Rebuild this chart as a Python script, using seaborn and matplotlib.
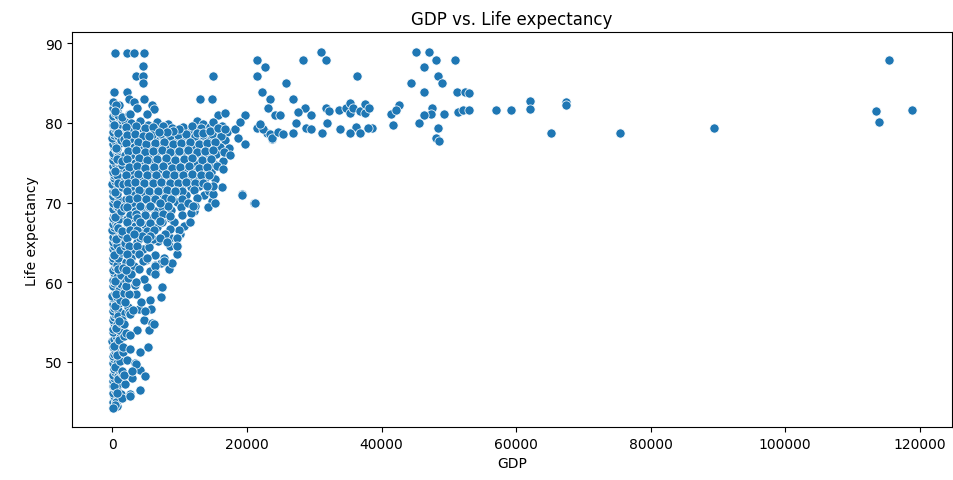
import matplotlib
matplotlib.use("Agg")
import matplotlib.pyplot as plt
import seaborn as sns
import pandas as pd

# ---- data (GDP, life expectancy) ----
col_near_zero = [
    (120,44.3),(300,44.6),(60,45.0),(420,45.3),(200,45.7),(30,46.1),(350,46.4),(150,46.9),(450,47.2),(80,47.6),
    (260,48.0),(20,48.4),(390,48.7),(170,49.1),(480,49.5),(90,49.9),(310,50.3),(40,50.7),(220,51.0),(440,51.4),
    (110,51.8),(340,52.2),(10,52.6),(250,52.9),(470,53.3),(140,53.7),(60,54.1),(380,54.5),(200,54.9),(20,55.3),
    (300,55.6),(460,56.0),(100,56.4),(230,56.8),(50,57.2),(400,57.6),(160,58.0),(10,58.3),(330,58.7),(480,59.1),
    (90,59.5),(260,59.9),(30,60.3),(410,60.7),(180,61.1),(70,61.5),(350,61.9),(500,62.2),(130,62.6),(20,63.0),
    (280,63.4),(440,63.8),(90,64.2),(210,64.6),(40,65.0),(370,65.3),(150,65.7),(490,66.1),(10,66.5),(270,66.9),
    (110,67.3),(420,67.7),(60,68.1),(190,68.4),(330,68.8),(20,69.2),(470,69.6),(140,70.0),(250,70.4),(50,70.8),
    (380,71.2),(100,71.5),(220,71.9),(10,72.3),(450,72.7),(170,73.1),(310,73.5),(70,73.9),(240,74.3),(30,74.6),
    (400,75.0),(130,75.4),(280,75.8),(20,76.2),(470,76.6),(190,77.0),(80,77.4),(350,77.7),(10,78.1),(230,78.5),
    (120,78.9),(420,79.3),(40,79.7),(300,80.1),(160,80.5),(20,80.9),(380,81.3),(90,81.9),(200,83.9),(60,82.6),
]
col_one_k = [
    (700,44.5),(900,45.5),(650,46.5),(1100,47.4),(800,48.2),(1000,49.0),(620,49.8),(1250,50.6),(850,51.5),(700,52.3),
    (1150,53.1),(950,54.0),(640,54.8),(1200,55.7),(780,56.5),(1050,57.4),(680,58.2),(920,59.0),(1300,59.8),(740,60.6),
    (1080,61.4),(610,62.2),(870,63.0),(1230,63.8),(720,64.7),(990,65.5),(1280,66.3),(650,67.1),(930,67.9),(1170,68.7),
    (760,69.5),(1040,70.3),(620,71.1),(880,71.9),(1220,72.7),(700,73.5),(1010,74.3),(1290,75.1),(800,75.9),(620,76.7),
    (1100,77.5),(900,78.3),(680,79.1),(1200,79.9),(950,80.7),(740,81.5),(1050,82.2),
]
col_fill = [
    (550,44.9),(1300,46.0),(250,47.0),(900,47.9),(1500,48.6),(400,49.4),(1100,50.1),(700,50.9),(1600,51.2),
    (300,52.0),(1000,52.7),(1700,53.3),(500,54.2),(1300,54.9),(800,55.8),(1800,56.1),(350,57.0),(1100,57.8),
    (600,58.5),(1900,59.3),(450,60.1),(1250,60.9),(800,61.7),(2000,62.5),(300,63.4),(1100,64.1),(1900,64.6),
    (550,65.4),(1500,66.0),(900,66.8),(2100,67.4),(350,68.2),(1300,68.9),(700,69.8),(2000,70.5),(450,71.3),
    (1500,71.9),(900,72.5),(2200,73.2),(350,74.0),(1400,74.7),(700,75.5),(1900,76.0),(500,76.9),(1300,77.8),
    (900,78.7),(2000,79.2),(300,79.8),(1500,80.4),(800,81.0),(1800,80.2),(500,82.3),
]
col_two_k = [
    (1500,45.4),(1800,47.2),(1450,48.9),(2100,50.2),(1650,51.9),(1950,53.6),(1400,55.3),(2300,56.9),(1700,58.6),
    (2050,60.2),(1550,61.8),(2400,63.3),(1850,64.9),(1450,66.4),(2200,67.9),(1750,69.4),(2450,70.9),(1600,72.3),
    (2000,73.8),(1400,75.2),(2350,76.6),(1700,78.0),(2100,79.4),(1500,80.8),(2400,81.1),
]
low_spread = [
    (5140,59.4),(7360,59.4),(7210,58.1),(3410,58.55),(5530,57.7),(5730,56.6),(3900,56.6),(2420,56.2),(4640,55.3),
    (5880,54.9),(5380,54.05),(3650,54.05),(2670,53.4),(1680,54.7),(930,55.1),(5290,51.85),(4150,51.25),(2670,51.55),
    (3410,49.9),(4150,49.0),(4890,48.2),(2920,48.0),(1680,48.4),(4150,46.5),(2670,45.9),(700,46.1),(440,44.6),(100,44.2),
    (3560,49.7),(2920,48.8),(2570,45.7),(6120,54.7),(2670,56.0),(3560,58.5),(5040,63.1),(8340,61.8),(6370,61.3),
    (2500,58.5),(1900,57.5),(4300,57.5),(3000,56.5),(4800,56.4),(2000,59.5),(3300,59.6),(2300,60.5),(4700,60.4),
]
top_left = [
    (340,88.8),(2180,88.8),(3260,88.8),(4640,88.8),(4540,87.1),(3560,85.9),(4540,85.9),(4540,85.0),(2180,83.9),
    (440,81.45),(2420,83.0),(4640,83.0),(3160,82.6),(3650,81.9),(5880,82.2),(6120,81.8),(5140,81.1),(2670,81.1),
]
mid_rows = [
    (2700,80.0),(4100,80.2),(5300,79.8),(6600,80.1),(8200,79.9),(12500,80.2),(13500,79.9),
    (3000,79.0),(4500,79.2),(5800,78.9),(7100,79.1),(8400,78.8),(10000,79.1),(11400,78.9),(12600,79.3),(13800,78.8),
    (15700,79.0),(17000,78.9),
    (2600,78.0),(3900,78.2),(5200,77.9),(6400,78.1),(7700,77.8),(9000,78.0),(10300,78.2),(11600,77.9),(12900,78.1),
    (14100,77.8),(15500,78.1),(16800,77.9),
    (3200,77.0),(4400,76.8),(5700,77.1),(6900,76.9),(8300,77.2),(9600,76.9),(10900,77.0),(12200,76.8),(13400,77.1),
    (14700,76.9),(16000,77.0),(17400,76.8),
    (2800,76.0),(4000,76.2),(5400,75.9),(6500,76.1),(7900,75.8),(9200,76.0),(10500,76.2),(11800,75.9),(13000,76.1),
    (14300,75.8),(15400,76.1),
    (3300,75.0),(4600,74.8),(6000,75.1),(7300,74.9),(8600,75.2),(9900,74.9),(11200,75.0),(12600,74.8),(13900,75.1),
    (15100,74.9),(16400,75.2),
    (2900,74.0),(4200,74.2),(5500,73.9),(6800,74.1),(8100,73.8),(9400,74.0),(10700,74.2),(12000,73.9),(13300,74.1),
    (14600,73.8),
    (3100,73.0),(4500,72.8),(5900,73.1),(7200,72.9),(8500,73.2),(9800,72.9),(11300,73.0),(12500,72.8),(13700,73.1),
    (15300,72.9),
    (2700,72.0),(4000,72.2),(5300,71.9),(6600,72.1),(7800,71.8),(9200,72.0),(10400,72.2),(11700,71.9),(12900,72.1),
    (3200,71.0),(4700,71.2),(6100,70.9),(7500,71.1),(8800,70.8),(11000,71.0),(13600,70.9),
    (2900,70.0),(4300,70.2),(5600,69.9),(9600,70.1),(14800,70.2),
    (3400,69.0),(4800,69.2),(6400,68.9),(8700,69.1),(12100,68.9),
    (2800,68.0),(4100,68.2),(5700,67.9),(8600,68.1),
    (3300,67.0),(4900,67.2),(6700,66.9),(10700,67.0),
    (2900,66.0),(4300,66.2),(5700,65.9),(10100,66.1),
    (3600,65.0),(5400,64.8),(6800,65.2),
    (3000,64.0),(4600,64.2),
    (2700,63.0),(5000,62.8),(7600,63.1),
    (3200,62.0),(6400,62.2),(2800,61.0),(3500,60.0),
]
mid_stagger = [
    (2000,79.5),(3500,79.6),(4800,79.4),(6100,79.5),(7500,79.6),(8900,79.4),(10500,79.5),(11900,79.6),(13200,79.4),
    (14500,79.5),(16300,79.6),
    (2200,78.5),(3300,78.6),(4600,78.4),(5900,78.5),(7200,78.6),(8600,78.4),(9800,78.5),(11000,78.6),(12300,78.4),
    (13500,78.5),(14800,78.6),(16100,78.4),
    (2000,77.5),(3800,77.6),(5000,77.4),(6300,77.5),(7600,77.6),(9000,77.4),(10200,77.5),(11500,77.6),(12800,77.4),
    (14000,77.5),(15300,77.6),
    (2300,76.5),(3500,76.6),(4800,76.4),(6000,76.5),(7300,76.6),(8600,76.4),(9900,76.5),(11200,76.6),(12500,76.4),
    (13800,76.5),(15000,76.6),(16600,76.4),
    (2100,75.5),(3900,75.6),(5200,75.4),(6600,75.5),(7900,75.6),(9300,75.4),(10600,75.5),(11900,75.6),(13300,75.4),
    (14600,75.5),
    (2400,74.5),(3600,74.6),(4900,74.4),(6200,74.5),(7500,74.6),(8800,74.4),(10100,74.5),(11400,74.6),(12800,74.4),
    (14000,74.5),(15600,74.6),
    (2000,73.5),(3800,73.6),(5200,73.4),(6500,73.5),(7900,73.6),(9100,73.4),(10500,73.5),(11900,73.6),(13100,73.4),
    (14400,73.5),
    (2300,72.5),(3400,72.6),(4700,72.4),(6000,72.5),(7200,72.6),(8500,72.4),(9800,72.5),(11000,72.6),(12300,72.4),
    (13500,72.5),
    (2100,71.5),(3900,71.6),(5400,71.4),(6800,71.5),(8100,71.6),(9600,71.4),(10400,71.5),(12200,71.6),(14300,71.4),
    (2400,70.5),(3600,70.6),(5000,70.4),(6400,70.5),(7800,70.6),(8700,70.4),(10300,70.5),(12600,70.6),
    (2100,69.5),(4100,69.6),(5400,69.4),(7300,69.5),(8200,69.6),(10200,69.4),
    (2600,68.5),(3500,68.6),(4900,68.4),(6400,68.5),(7500,68.6),(10400,68.4),
    (2100,67.5),(4100,67.6),(5600,67.4),(7400,67.5),(9200,67.6),
    (2600,66.5),(3700,66.6),(5100,66.4),(6200,66.5),(9900,66.6),
    (2200,65.5),(4100,65.6),(6000,65.4),(8700,65.5),
    (2500,64.5),(3700,64.6),(5500,64.4),(8500,64.5),
    (2100,63.5),(3900,63.6),(6400,63.4),
    (2600,62.5),(4500,62.6),(7200,62.4),
    (2000,61.5),(4000,61.6),(5600,61.4),
]
mid_edges = [
    (19210,71.05),(21040,70.0),(17480,75.95),(16490,74.2),(16250,71.9),(15010,71.05),(14270,69.4),(15260,70.0),
    (12300,69.6),(11660,68.65),(11560,67.5),(9330,71.5),(8590,68.3),(7110,67.7),(8590,66.7),(9670,65.6),(9670,64.5),
    (9670,63.5),(5140,63.1),(6370,62.0),(6370,61.0),(8340,61.6),(8840,62.45),(7600,62.65),(4400,65.8),(5630,65.8),
    (7850,66.0),(7110,65.6),(5140,65.4),(3160,66.0),(8100,65.0),(3650,68.1),(7110,70.0),(5630,69.6),(4150,67.5),
    (11310,70.0),(12050,69.6),(15010,72.1),(14030,72.1),(9580,65.6),(9580,64.5),
]
upper_mid = [
    (14920,85.9),(13040,83.0),(14770,83.0),(15750,81.0),(16740,81.2),(15010,80.1),(9970,79.2),(9080,79.0),(8100,78.9),
    (6860,78.9),(5380,78.4),(12550,78.7),(13530,78.8),(14520,79.0),(15750,79.4),(16740,79.2),(18220,79.2),(19700,81.0),
    (18960,80.1),(18710,78.05),(19700,77.3),(22920,78.8),(23660,78.0),(24150,81.0),
]
high_gdp = [
    (21530,87.9),(22670,87.0),(21530,85.9),(22180,83.9),(23410,83.0),(23060,81.9),(24890,81.0),(25780,85.0),
    (26860,83.0),(28350,87.9),(31070,88.9),(31810,87.9),(28590,81.9),(27600,81.4),(29580,81.0),(27360,80.0),
    (28740,79.4),(29580,79.2),(21430,79.4),(22410,79.2),(21920,79.85),(23410,78.6),(23660,78.05),(24640,78.9),
    (25380,78.6),(26860,78.8),(31220,78.8),(31900,80.0),(31810,81.9),(32200,81.5),(33680,81.6),(33880,79.2),
    (34770,81.9),(35260,82.5),(35260,81.3),(36340,85.9),(36250,79.55),(35260,78.8),(36740,78.8),(35750,81.9),
    (36740,81.5),(37480,81.3),(37480,82.4),(38120,81.9),(38610,79.4),(37970,79.4),(41440,81.1),(41690,79.7),
    (42670,82.2),(42180,81.65),(44400,85.0),(45140,88.9),(47110,88.9),(48100,87.9),(46370,87.0),(48350,85.9),
    (48990,85.0),(46370,83.9),(47500,81.9),(47360,81.1),(46370,81.0),(45530,80.0),(48350,79.4),(48100,78.05),
    (48590,77.75),(49330,81.1),(50960,87.9),(51160,83.9),(52450,83.9),(51300,81.4),(52050,81.65),(21190,70.0),
    (19260,71.0),(53040,83.8),(53040,81.6),
]
far_right = [
    (57000,81.6),(59310,81.6),(62030,82.7),(62030,81.8),(67460,82.6),(67460,82.2),(65140,78.7),(75510,78.7),
    (89440,79.4),(113440,81.45),(113930,80.06),(115370,87.9),(118800,81.6),
]

groups = [col_near_zero, col_one_k, col_fill, col_two_k, low_spread, top_left, mid_rows,
          mid_stagger, mid_edges, upper_mid, high_gdp, far_right]
gdp = [p[0] for g in groups for p in g]
life = [p[1] for g in groups for p in g]
df = pd.DataFrame({"GDP": gdp, "Life expectancy": life})

fig, ax = plt.subplots(figsize=(9.54, 4.81), dpi=100)
fig.subplots_adjust(left=0.0755, right=0.998, bottom=0.11, top=0.931)
sns.scatterplot(data=df, x="GDP", y="Life expectancy", ax=ax, color="#1f77b4", s=44)
ax.set_xlim(-6000, 124800)
ax.set_ylim(41.8, 91.4)
ax.set_xticks([0, 20000, 40000, 60000, 80000, 100000, 120000])
ax.set_yticks([50, 60, 70, 80, 90])
ax.set_title("GDP vs. Life expectancy")
ax.set_xlabel("GDP")
ax.set_ylabel("Life expectancy")
fig.savefig("out.png", dpi=100)
